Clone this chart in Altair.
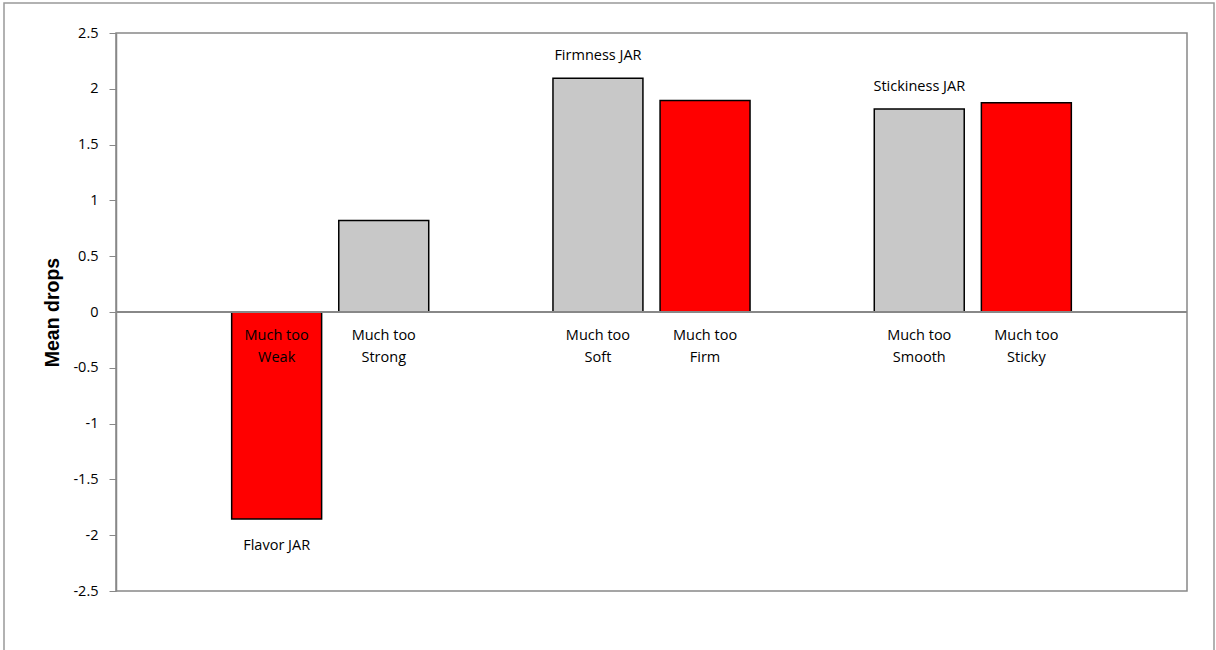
import altair as alt
import pandas as pd

slots = ["s0", "Weak", "Strong", "s3", "Soft", "Firm", "s6", "Smooth", "Sticky", "s9"]
bar_cats = ["Weak", "Strong", "Soft", "Firm", "Smooth", "Sticky"]
bar_vals = [-1.855, 0.82, 2.095, 1.895, 1.82, 1.875]
bar_labels = [["Much too", "Weak"], ["Much too", "Strong"], ["Much too", "Soft"],
              ["Much too", "Firm"], ["Much too", "Smooth"], ["Much too", "Sticky"]]
bar_colors = ["#FF0000", "#C8C8C8", "#C8C8C8", "#FF0000", "#C8C8C8", "#FF0000"]
below_cats = ["Weak"]
below_names = ["Flavor JAR"]
below_vals = [-1.855]
above_cats = ["Soft", "Smooth"]
above_names = ["Firmness JAR", "Stickiness JAR"]
above_vals = [2.095, 1.82]
y_ticks = [2.5, 2, 1.5, 1, 0.5, 0, -0.5, -1, -1.5, -2, -2.5]

FONT = "Open Sans"

bars = pd.DataFrame({"cat": bar_cats, "val": bar_vals, "color": bar_colors,
                     "lab": bar_labels})
below = pd.DataFrame({"cat": below_cats, "name": below_names, "val": below_vals})
above = pd.DataFrame({"cat": above_cats, "name": above_names, "val": above_vals})

x = alt.X("cat:N", scale=alt.Scale(domain=slots, paddingInner=0.16, paddingOuter=0.08),
          axis=None)
yscale = alt.Scale(domain=[-2.5, 2.5], nice=False, zero=False)

bar = alt.Chart(bars).mark_bar(stroke="black", strokeWidth=1.5).encode(
    x=x,
    y=alt.Y("val:Q", scale=yscale,
            axis=alt.Axis(values=y_ticks, labelExpr="'' + datum.value", title="Mean drops",
                          grid=False, labelFont=FONT, labelFontSize=14.5,
                          labelColor="black", tickColor="#888888", tickSize=7,
                          domainColor="#888888", domainWidth=1.5, labelPadding=11,
                          titleFont="Liberation Sans", titleFontSize=19.5,
                          titleFontWeight="bold", titleColor="black",
                          titlePadding=10)),
    y2=alt.datum(0),
    fill=alt.Color("color:N", scale=None),
)

zero = alt.Chart(pd.DataFrame({"z": [0]})).mark_rule(color="#888888", strokeWidth=2).encode(
    y=alt.Y("z:Q", scale=yscale))

labels = alt.Chart(bars).mark_text(font=FONT, fontSize=14.5, color="black",
                                   baseline="middle", dy=24, lineHeight=22).encode(
    x=x, y=alt.datum(0), text="lab")

blabels = alt.Chart(below).mark_text(font=FONT, fontSize=14.5, color="black",
                                     baseline="middle", dy=27).encode(
    x=x, y=alt.Y("val:Q", scale=yscale), text="name")

alabels = alt.Chart(above).mark_text(font=FONT, fontSize=14.5, color="black",
                                     baseline="middle", dy=-22).encode(
    x=x, y=alt.Y("val:Q", scale=yscale), text="name")

border = alt.Chart(pd.DataFrame({"a": [0]})).mark_rect(
    fill=None, stroke="#999999", strokeWidth=1.5, clip=False).encode(
    x=alt.value(-112), x2=alt.value(1098), y=alt.value(-30), y2=alt.value(700))

chart = alt.layer(border, bar, zero, labels, blabels, alabels).properties(
    width=1071, height=558,
    autosize=alt.AutoSizeParams(type="none"),
    padding={"left": 116, "top": 33, "right": 29, "bottom": 59},
).configure(
    background="white",
    view=alt.ViewConfig(stroke="#888888", strokeWidth=1.5),
)

chart.save("out.html", embed_options={"renderer": "svg", "actions": False})
